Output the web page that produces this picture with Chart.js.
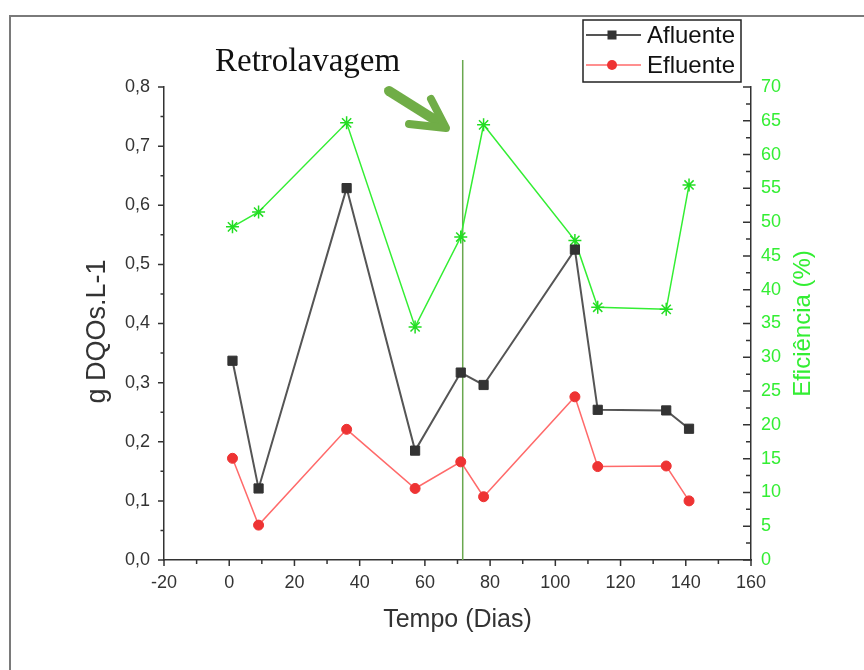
<!DOCTYPE html>
<html><head><meta charset="utf-8">
<script src="https://cdn.jsdelivr.net/npm/chart.js@4/dist/chart.umd.min.js"></script>
<style>html,body{margin:0;padding:0;background:#fff;overflow:hidden}canvas{display:block}</style>
</head><body>
<canvas id="c" width="864" height="670"></canvas>
<script>
// ---- data ----
const days = [1, 9, 36, 57, 71, 78, 106, 113, 134, 141];
const afluente = [0.337, 0.121, 0.629, 0.185, 0.317, 0.296, 0.525, 0.254, 0.253, 0.222];
const efluente = [0.172, 0.059, 0.221, 0.121, 0.166, 0.107, 0.276, 0.158, 0.159, 0.100];
const eficiencia = [49.3, 51.5, 64.7, 34.5, 47.8, 64.4, 47.3, 37.4, 37.1, 55.5];
const seriesNames = ['Afluente', 'Efluente', 'Eficiência'];
const xTicks = [-20, 0, 20, 40, 60, 80, 100, 120, 140, 160];
const leftTicks = [0, 0.1, 0.2, 0.3, 0.4, 0.5, 0.6, 0.7, 0.8];
const rightTicks = [0, 5, 10, 15, 20, 25, 30, 35, 40, 45, 50, 55, 60, 65, 70];
const retroDay = 71.6;
const retroLabel = 'Retrolavagem';
const xTitle = 'Tempo (Dias)';
const yTitle = 'g DQOs.L-1';
const y2Title = 'Eficiência (%)';

const SANS = '"Liberation Sans", Arial, sans-serif';
const GREEN = '#33ee33';
const DARK = '#333333';

function pts(vals) { return days.map((d, i) => ({ x: d, y: vals[i] })); }

function vText(ctx, text, x, y, font, color) {
  ctx.save();
  ctx.translate(x, y);
  ctx.rotate(-Math.PI / 2);
  ctx.fillStyle = color;
  ctx.font = font;
  ctx.textAlign = 'center';
  ctx.textBaseline = 'middle';
  ctx.fillText(text, 0, 0);
  ctx.restore();
}

const decor = {
  id: 'decor',
  beforeDraw(chart) {
    const ctx = chart.ctx;
    ctx.save();
    ctx.fillStyle = '#fff';
    ctx.fillRect(0, 0, chart.width, chart.height);
    ctx.strokeStyle = '#7a7a7a';
    ctx.lineWidth = 2;
    ctx.strokeRect(10, 16, 900, 700);
    ctx.restore();
  },
  beforeDatasetsDraw(chart) {
    const ctx = chart.ctx, xs = chart.scales.x, ca = chart.chartArea;
    const xp = xs.getPixelForValue(retroDay);
    ctx.save();
    ctx.strokeStyle = '#6aa84f';
    ctx.lineWidth = 1.5;
    ctx.beginPath();
    ctx.moveTo(xp, ca.top - 27);
    ctx.lineTo(xp, ca.bottom);
    ctx.stroke();
    ctx.restore();
  },
  afterDraw(chart) {
    const ctx = chart.ctx, ca = chart.chartArea;
    const xs = chart.scales.x, ys = chart.scales.y, y2 = chart.scales.y2;
    ctx.save();
    ctx.strokeStyle = DARK;
    ctx.lineWidth = 1.5;
    ctx.beginPath();
    for (let i = 0; i < leftTicks.length; i++) {
      const p = ys.getPixelForValue(leftTicks[i]);
      ctx.moveTo(ca.left, p); ctx.lineTo(ca.left - 6, p);
      if (i < leftTicks.length - 1) {
        const m = ys.getPixelForValue((leftTicks[i] + leftTicks[i + 1]) / 2);
        ctx.moveTo(ca.left, m); ctx.lineTo(ca.left - 3.5, m);
      }
    }
    for (let i = 0; i < rightTicks.length; i++) {
      const p = y2.getPixelForValue(rightTicks[i]);
      ctx.moveTo(ca.right, p); ctx.lineTo(ca.right - 8, p);
      if (i < rightTicks.length - 1) {
        const m = y2.getPixelForValue((rightTicks[i] + rightTicks[i + 1]) / 2);
        ctx.moveTo(ca.right, m); ctx.lineTo(ca.right - 5, m);
      }
    }
    for (let i = 0; i < xTicks.length; i++) {
      const p = xs.getPixelForValue(xTicks[i]);
      ctx.moveTo(p, ca.bottom); ctx.lineTo(p, ca.bottom + 6);
      if (i < xTicks.length - 1) {
        const m = xs.getPixelForValue((xTicks[i] + xTicks[i + 1]) / 2);
        ctx.moveTo(m, ca.bottom); ctx.lineTo(m, ca.bottom + 4);
      }
    }
    ctx.stroke();

    // axis titles (both read bottom to top)
    vText(ctx, yTitle, ca.left - 66, (ca.top + ca.bottom) / 2 + 8, '27px ' + SANS, DARK);
    vText(ctx, y2Title, ca.right + 52, (ca.top + ca.bottom) / 2, '24px ' + SANS, GREEN);

    // legend
    ctx.lineWidth = 1.5;
    ctx.strokeStyle = '#222';
    ctx.strokeRect(583, 20, 158, 62);
    const rows = [
      { name: seriesNames[0], y: 35, line: '#555555', fill: '#333333', shape: 'rect' },
      { name: seriesNames[1], y: 65, line: '#ff6a6a', fill: '#ee3333', shape: 'circle' }
    ];
    rows.forEach(r => {
      ctx.strokeStyle = r.line;
      ctx.lineWidth = r.shape === 'rect' ? 2 : 1.5;
      ctx.beginPath(); ctx.moveTo(586, r.y); ctx.lineTo(641, r.y); ctx.stroke();
      ctx.fillStyle = r.fill;
      if (r.shape === 'rect') ctx.fillRect(607.5, r.y - 4.5, 9, 9);
      else { ctx.beginPath(); ctx.arc(612, r.y, 5, 0, Math.PI * 2); ctx.fill(); }
      ctx.fillStyle = '#111';
      ctx.font = '24px ' + SANS;
      ctx.textAlign = 'left';
      ctx.textBaseline = 'middle';
      ctx.fillText(r.name, 647, r.y + 1);
    });

    // annotation text
    ctx.fillStyle = '#111';
    ctx.font = '33px "Liberation Serif", "Times New Roman", serif';
    ctx.textAlign = 'left';
    ctx.textBaseline = 'alphabetic';
    ctx.fillText(retroLabel, 215, 71);

    // arrow
    ctx.strokeStyle = '#70ad47';
    ctx.fillStyle = '#70ad47';
    ctx.lineWidth = 10;
    ctx.lineCap = 'round';
    ctx.lineJoin = 'round';
    ctx.beginPath();
    ctx.moveTo(389, 91); ctx.lineTo(440, 123);
    ctx.stroke();
    ctx.lineWidth = 8;
    ctx.beginPath();
    ctx.moveTo(409, 124); ctx.lineTo(446, 128); ctx.lineTo(431, 99);
    ctx.stroke();
    ctx.restore();
  }
};

const tickFont = { family: SANS, size: 18 };

new Chart(document.getElementById('c'), {
  type: 'line',
  data: {
    datasets: [
      {
        label: seriesNames[0], data: pts(afluente), yAxisID: 'y',
        borderColor: '#555555', borderWidth: 2,
        pointStyle: 'rect', pointRadius: 6.5, pointBackgroundColor: '#333333', pointBorderColor: '#333333', pointBorderWidth: 1,
        tension: 0, fill: false
      },
      {
        label: seriesNames[1], data: pts(efluente), yAxisID: 'y',
        borderColor: '#ff6a6a', borderWidth: 1.5,
        pointStyle: 'circle', pointRadius: 5, pointBackgroundColor: '#ee3333', pointBorderColor: '#ee3333', pointBorderWidth: 1,
        tension: 0, fill: false
      },
      {
        label: seriesNames[2], data: pts(eficiencia), yAxisID: 'y2',
        borderColor: GREEN, borderWidth: 1.5,
        pointStyle: 'star', pointRadius: 6.5, pointBackgroundColor: GREEN, pointBorderColor: '#22dd22', pointBorderWidth: 1.5,
        tension: 0, fill: false
      }
    ]
  },
  options: {
    responsive: false, animation: false, devicePixelRatio: 1,
    layout: { padding: { left: 107, top: 87, right: 0, bottom: 0 } },
    plugins: { legend: { display: false }, tooltip: { enabled: false } },
    scales: {
      x: {
        type: 'linear', position: 'bottom', min: xTicks[0], max: xTicks[xTicks.length - 1],
        afterBuildTicks: s => { s.ticks = xTicks.map(v => ({ value: v })); },
        afterFit: s => { s.height = 110; },
        grid: { display: false, drawTicks: false },
        border: { display: true, color: DARK, width: 1.5 },
        ticks: { padding: 12, font: tickFont, color: DARK, autoSkip: false, maxRotation: 0 },
        title: { display: true, text: xTitle, color: DARK, font: { family: SANS, size: 25 }, padding: { top: 0, bottom: 35 } }
      },
      y: {
        type: 'linear', position: 'left', min: 0, max: 0.8,
        afterBuildTicks: s => { s.ticks = leftTicks.map(v => ({ value: v })); },
        afterFit: s => { s.width = 57; },
        grid: { display: false, drawTicks: false },
        border: { display: true, color: DARK, width: 1.5 },
        ticks: { padding: 14, font: tickFont, color: DARK, autoSkip: false, callback: v => v.toFixed(1).replace('.', ',') },
        title: { display: false }
      },
      y2: {
        type: 'linear', position: 'right', min: 0, max: 70,
        afterBuildTicks: s => { s.ticks = rightTicks.map(v => ({ value: v })); },
        afterFit: s => { s.width = 113; },
        grid: { display: false, drawTicks: false },
        border: { display: true, color: DARK, width: 1.5 },
        ticks: { padding: 10, font: tickFont, color: GREEN, autoSkip: false, callback: v => String(v) },
        title: { display: false }
      }
    }
  },
  plugins: [decor]
});
</script>
</body></html>
